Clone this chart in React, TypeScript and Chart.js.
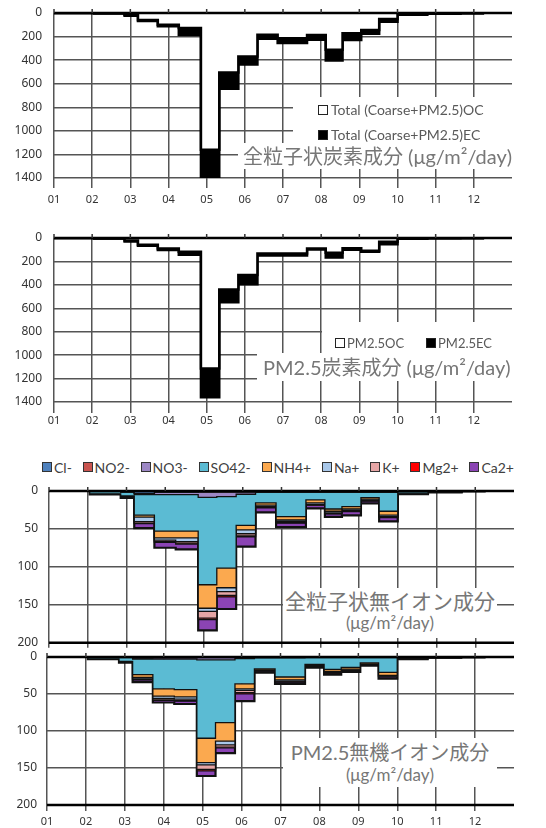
import React, { useEffect, useRef } from 'react';
import { Chart, registerables } from 'chart.js';

Chart.register(...registerables);

if (typeof document !== 'undefined') {
  document.body.style.margin = '0';
}

// ---------- data ----------
const monthLabels = ['01', '02', '03', '04', '05', '06', '07', '08', '09', '10', '11', '12'];
// sampling period starts (in months from 01), and end of last period
const periodStarts = [0, 1.05, 1.85, 2.2, 2.72, 3.27, 3.85, 4.33, 4.83, 5.33, 5.86, 6.63, 7.12, 7.56, 8.05, 8.52, 9.0, 9.78, 10.65];
const periodEnd = 11.27;

// Panel 1: total (coarse + PM2.5) carbon
const totalOC = [0, 3, 15, 60, 100, 128, 1160, 505, 370, 185, 215, 187, 312, 172, 145, 50, 8, 4, 2];
const totalEC = [0, 1, 8, 8, 12, 58, 260, 138, 68, 33, 40, 40, 92, 58, 30, 24, 6, 2, 1];

// Panel 2: PM2.5 carbon
const pm25OC = [0, 4, 22, 58, 90, 117, 1115, 440, 315, 132, 132, 90, 125, 88, 108, 32, 4, 2, 1];
const pm25EC = [0, 1, 8, 8, 12, 27, 245, 108, 80, 18, 18, 8, 42, 12, 10, 22, 3, 1, 0.5];

// Panel 3: total particulate inorganic ions
const totCl = [0, 0.5, 1, 3, 1.5, 1.5, 1, 1, 1, 0.5, 0.5, 0.5, 0.5, 0.5, 0.5, 0.5, 0.5, 0.3, 0.1];
const totNO2 = [0, 0, 0.1, 0.3, 0.3, 0.3, 0.5, 0.5, 0.3, 0.2, 0.2, 0.2, 0.2, 0.2, 0.2, 0.2, 0.1, 0, 0];
const totNO3 = [0, 0.2, 0.5, 1.5, 3, 3, 7, 6, 3, 1, 1, 1, 1, 1, 1, 1, 0.3, 0.2, 0.1];
const totSO4 = [0, 3, 5, 27, 48, 48, 115, 94, 41, 14, 32, 10, 22, 19, 7, 25, 2, 0.8, 0.3];
const totNH4 = [0, 0.2, 1, 2.5, 9, 9, 31, 26, 6, 3, 4.5, 4, 3, 3, 2, 5, 0.3, 0.1, 0];
const totNa = [0, 0.1, 0.3, 6, 3, 5, 4, 5, 5, 2, 2, 2, 2, 2, 1.5, 2, 0.3, 0.1, 0];
const totK = [0, 0.1, 0.2, 2, 2, 2, 9, 5, 3, 1, 1.5, 1, 1, 1, 0.8, 1, 0.1, 0, 0];
const totMg = [0, 0, 0.1, 0.5, 1, 1, 2, 2, 1, 0.5, 0.5, 0.3, 0.3, 0.3, 0.2, 0.3, 0.1, 0, 0];
const totCa = [0, 0.5, 1, 6, 7, 7, 14, 16, 13, 6, 5.5, 4, 4, 5, 3, 5, 0.5, 0.2, 0.1];

// Panel 4: PM2.5 inorganic ions
const pmCl = [0, 0.3, 0.5, 1, 0.8, 0.8, 0.5, 0.5, 0.5, 0.3, 0.3, 0.3, 0.3, 0.3, 0.3, 0.3, 0.3, 0.2, 0.1];
const pmNO2 = [0, 0, 0.1, 0.2, 0.2, 0.2, 0.3, 0.3, 0.2, 0.1, 0.1, 0.1, 0.1, 0.1, 0.1, 0.1, 0, 0, 0];
const pmNO3 = [0, 0.1, 0.3, 1.5, 2, 2, 3, 3, 1.5, 0.6, 0.6, 0.5, 0.5, 0.5, 0.5, 0.5, 0.2, 0.1, 0];
const pmSO4 = [0, 2, 5, 21, 40, 41, 106, 85, 34, 15, 26, 9, 16, 13, 7, 20, 1.5, 0.5, 0.3];
const pmNH4 = [0, 0.1, 1, 4, 10, 10, 33, 25, 7, 1.5, 4, 1.5, 3, 2.5, 1.5, 4, 0.3, 0.1, 0];
const pmNa = [0, 0.1, 0.2, 2, 3, 3, 3, 5, 2, 0.8, 1.5, 0.8, 1, 1, 0.6, 1, 0.1, 0, 0];
const pmK = [0, 0, 0.1, 1, 2, 2, 6, 3, 3, 0.5, 1, 0.5, 0.7, 0.7, 0.4, 0.7, 0.1, 0, 0];
const pmMg = [0, 0, 0, 0.3, 0.5, 0.5, 2, 1, 1.5, 0.2, 0.3, 0.2, 0.2, 0.2, 0.1, 0.2, 0, 0, 0];
const pmCa = [0, 0.3, 0.5, 3, 3, 4, 7, 7, 10, 2, 2.5, 1.5, 2, 2, 1.2, 2.5, 0.4, 0.1, 0];

const ionNames = ['Cl-', 'NO2-', 'NO3-', 'SO42-', 'NH4+', 'Na+', 'K+', 'Mg2+', 'Ca2+'];
const ionColors = ['#4F81BD', '#C9544F', '#9C87C4', '#5BBBD3', '#FBA94F', '#A9C8EA', '#E6A5A5', '#FF0000', '#8B44B4'];
const totIons = [totCl, totNO2, totNO3, totSO4, totNH4, totNa, totK, totMg, totCa];
const pmIons = [pmCl, pmNO2, pmNO3, pmSO4, pmNH4, pmNa, pmK, pmMg, pmCa];

// ---------- helpers ----------
function steps(values: number[]) {
  const pts = periodStarts.map((x, i) => ({ x, y: values[i] }));
  pts.push({ x: periodEnd, y: values[values.length - 1] });
  return pts;
}

const GRID = '#555555';
const TICK_FAMILY = "'Noto Sans', 'DejaVu Sans', sans-serif";
const TEXT_FAMILY = "Lato, 'Noto Sans CJK JP', sans-serif";

const axisLinesPlugin = {
  id: 'axisLines',
  afterDatasetsDraw(chart: any, _args: any, opts: any) {
    const { ctx, chartArea, scales } = chart;
    const y = scales.y;
    const x = scales.x;
    ctx.save();
    ctx.strokeStyle = '#000';
    ctx.lineWidth = 2.5;
    for (const v of opts.values || [0]) {
      const py = y.getPixelForValue(v);
      ctx.beginPath();
      ctx.moveTo(chartArea.left, py);
      ctx.lineTo(chartArea.right, py);
      ctx.stroke();
    }
    ctx.lineWidth = 1.5;
    ctx.strokeStyle = '#333';
    const py0 = y.getPixelForValue(0);
    for (let m = 0; m < monthLabels.length; m++) {
      const px = x.getPixelForValue(m);
      ctx.beginPath();
      ctx.moveTo(px, py0 - 4);
      ctx.lineTo(px, py0);
      ctx.stroke();
    }
    ctx.restore();
  },
};

type Series = { label: string; values: number[]; fill: string; border: string; width: number };
type PanelProps = {
  top: number;
  height: number;
  plotLeft: number;
  plotRight: number;
  plotTop: number;
  plotBottom: number;
  yMax: number;
  yStep: number;
  series: Series[];
  xLabels: boolean;
  tickLength: number;
  xPad: number;
  yPad: number;
  axisValues: number[];
};

function Panel(p: PanelProps) {
  const ref = useRef<HTMLCanvasElement>(null);
  useEffect(() => {
    const chart = new Chart(ref.current as HTMLCanvasElement, {
      type: 'line',
      data: {
        datasets: p.series.map((s, i) => ({
          label: s.label,
          data: steps(s.values),
          stepped: 'before',
          fill: i === 0 ? 'origin' : '-1',
          backgroundColor: s.fill,
          borderColor: s.border,
          borderWidth: s.width,
          pointRadius: 0,
          pointHoverRadius: 0,
          tension: 0,
        })),
      } as any,
      plugins: [axisLinesPlugin],
      options: {
        responsive: false,
        animation: false,
        events: [],
        layout: { padding: { left: 0, right: 546 - p.plotRight, top: p.plotTop, bottom: 0 } },
        plugins: {
          legend: { display: false },
          tooltip: { enabled: false },
          axisLines: { values: p.axisValues },
        } as any,
        scales: {
          x: {
            type: 'linear',
            min: 0,
            max: 12,
            ticks: {
              stepSize: 1,
              autoSkip: false,
              maxRotation: 0,
              padding: p.xPad,
              color: '#333',
              font: { family: TICK_FAMILY, size: 11 },
              callback: (v: any) => (p.xLabels && v < 12 ? monthLabels[v] : ''),
            },
            grid: {
              color: (c: any) => (c.tick && c.tick.value === 12 ? 'rgba(0,0,0,0)' : GRID),
              lineWidth: 1.5,
              drawTicks: true,
              tickLength: p.tickLength,
            },
            border: { display: false },
            afterFit: (s: any) => {
              s.height = p.height - p.plotBottom;
            },
          },
          y: {
            stacked: true,
            reverse: true,
            min: 0,
            max: p.yMax,
            ticks: {
              stepSize: p.yStep,
              padding: 0,
              color: '#333',
              font: { family: TICK_FAMILY, size: 12 },
              callback: (v: any) => String(v),
            },
            grid: {
              color: GRID,
              lineWidth: 1.5,
              drawTicks: true,
              tickLength: p.yPad,
              tickColor: 'rgba(0,0,0,0)',
            },
            border: { display: false },
            afterFit: (s: any) => {
              s.width = p.plotLeft;
            },
          },
        },
      } as any,
    });
    return () => chart.destroy();
  }, []);
  return (
    <canvas
      ref={ref}
      width={546}
      height={p.height}
      style={{ position: 'absolute', left: 0, top: p.top, width: 546, height: p.height }}
    />
  );
}

const box = (left: number, top: number, width: number, height: number): React.CSSProperties => ({
  position: 'absolute',
  left,
  top,
  width,
  height,
  background: '#fff',
});

const legendText: React.CSSProperties = {
  position: 'absolute',
  fontFamily: TEXT_FAMILY,
  fontSize: 14,
  color: '#595959',
  whiteSpace: 'nowrap',
};

function Square({ left, top, color }: { left: number; top: number; color: string }) {
  return (
    <div
      style={{
        position: 'absolute',
        left,
        top,
        width: 8,
        height: 8,
        background: color,
        border: '1.5px solid #222',
      }}
    />
  );
}

export default function App() {
  const carbonSeries = (oc: number[], ec: number[], ocLabel: string, ecLabel: string): Series[] => [
    { label: ocLabel, values: oc, fill: '#ffffff', border: '#000', width: 2.5 },
    { label: ecLabel, values: ec, fill: '#000000', border: '#000', width: 2.5 },
  ];
  const ionSeries = (arrs: number[][]): Series[] =>
    arrs.map((a, i) => ({
      label: ionNames[i],
      values: a,
      fill: ionColors[i],
      border: '#111',
      width: i === arrs.length - 1 ? 2.2 : 1.3,
    }));

  const titleStyle: React.CSSProperties = {
    position: 'absolute',
    fontFamily: TEXT_FAMILY,
    color: '#777',
    whiteSpace: 'nowrap',
  };

  return (
    <div style={{ position: 'relative', width: 546, height: 828, background: '#fff', overflow: 'hidden', fontFamily: TEXT_FAMILY }}>
      {/* Panel 1 */}
      <Panel
        top={0}
        height={212}
        plotLeft={54}
        plotRight={512}
        plotTop={13}
        plotBottom={178}
        yMax={1400}
        yStep={200}
        series={carbonSeries(totalOC, totalEC, 'Total (Coarse+PM2.5)OC', 'Total (Coarse+PM2.5)EC')}
        xLabels={true}
        tickLength={10}
        xPad={5}
        yPad={12}
        axisValues={[0]}
      />
      <div style={box(293, 97, 222, 46)} />
      <div style={box(238, 143, 285, 26)} />
      <Square left={318} top={105} color="#fff" />
      <div style={{ ...legendText, left: 331, top: 101, lineHeight: '18px' }}>Total (Coarse+PM2.5)OC</div>
      <Square left={318} top={130} color="#000" />
      <div style={{ ...legendText, left: 331, top: 126, lineHeight: '18px' }}>Total (Coarse+PM2.5)EC</div>
      <div style={{ ...titleStyle, left: 243, top: 143, lineHeight: '26px', fontSize: 20 }}>
        全粒子状炭素成分 (μg/m²/day)
      </div>

      {/* Panel 2 */}
      <Panel
        top={225}
        height={206}
        plotLeft={54}
        plotRight={512}
        plotTop={13}
        plotBottom={177}
        yMax={1400}
        yStep={200}
        series={carbonSeries(pm25OC, pm25EC, 'PM2.5OC', 'PM2.5EC')}
        xLabels={true}
        tickLength={11}
        xPad={1}
        yPad={12}
        axisValues={[0]}
      />
      <div style={box(322, 322, 198, 31)} />
      <div style={box(257, 353, 266, 28)} />
      <Square left={335} top={338} color="#fff" />
      <div style={{ ...legendText, left: 347, top: 334, lineHeight: '18px', fontSize: 13 }}>PM2.5OC</div>
      <Square left={426} top={338} color="#000" />
      <div style={{ ...legendText, left: 438, top: 334, lineHeight: '18px', fontSize: 13 }}>PM2.5EC</div>
      <div style={{ ...titleStyle, left: 263, top: 353, lineHeight: '28px', fontSize: 20 }}>
        PM2.5炭素成分 (μg/m²/day)
      </div>

      {/* Panel 3 legend */}
      <div
        style={{
          position: 'absolute',
          left: 42,
          top: 458,
          width: 472,
          height: 18,
          display: 'flex',
          justifyContent: 'space-between',
          alignItems: 'center',
          fontFamily: TEXT_FAMILY,
          fontSize: 14,
          color: '#404040',
        }}
      >
        {ionNames.map((n, i) => (
          <div key={n} style={{ display: 'flex', alignItems: 'center', whiteSpace: 'nowrap' }}>
            <span
              style={{
                display: 'inline-block',
                width: 8,
                height: 8,
                background: ionColors[i],
                border: '1px solid #333',
                marginRight: 2,
              }}
            />
            {n}
          </div>
        ))}
      </div>

      {/* Panel 3 */}
      <Panel
        top={478}
        height={172}
        plotLeft={49}
        plotRight={514}
        plotTop={13}
        plotBottom={165}
        yMax={200}
        yStep={50}
        series={ionSeries(totIons)}
        xLabels={false}
        tickLength={5}
        xPad={0}
        yPad={11}
        axisValues={[0, 200]}
      />
      <div style={box(283, 588, 214, 50)} />
      <div style={{ ...titleStyle, left: 283, width: 214, textAlign: 'center', top: 588, lineHeight: '26px', fontSize: 21 }}>
        全粒子状無イオン成分
      </div>
      <div style={{ ...titleStyle, left: 283, width: 214, textAlign: 'center', top: 612, lineHeight: '22px', fontSize: 17 }}>
        (μg/m²/day)
      </div>

      {/* Panel 4 */}
      <Panel
        top={644}
        height={184}
        plotLeft={47}
        plotRight={514}
        plotTop={13}
        plotBottom={161}
        yMax={200}
        yStep={50}
        series={ionSeries(pmIons)}
        xLabels={true}
        tickLength={6}
        xPad={4}
        yPad={10}
        axisValues={[0, 200]}
      />
      <div style={box(283, 738, 214, 49)} />
      <div style={{ ...titleStyle, left: 283, width: 214, textAlign: 'center', top: 739, lineHeight: '26px', fontSize: 20 }}>
        PM2.5無機イオン成分
      </div>
      <div style={{ ...titleStyle, left: 283, width: 214, textAlign: 'center', top: 764, lineHeight: '22px', fontSize: 17 }}>
        (μg/m²/day)
      </div>
    </div>
  );
}
